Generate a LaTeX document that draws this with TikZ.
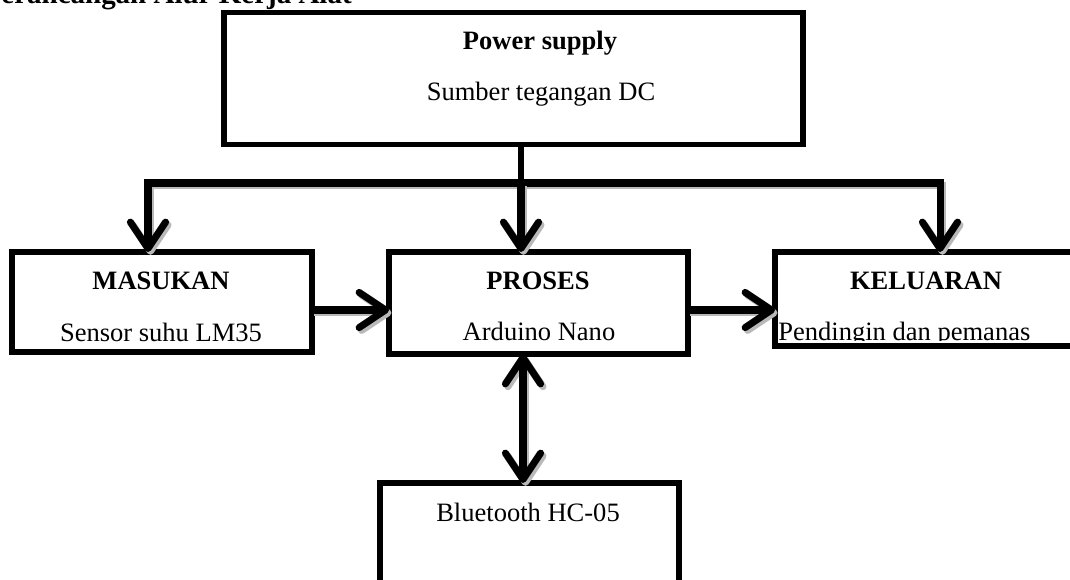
\documentclass[tikz,border=0pt]{standalone}
\usepackage{fontspec}
\setmainfont{Liberation Serif}
\usetikzlibrary{arrows.meta}

\tikzset{
  blok/.style={draw, line width=3pt, inner sep=0pt, outer sep=0pt},
  teks/.style={inner sep=0pt, anchor=base, font=\fontsize{15.1}{18}\selectfont},
  judul/.style={teks, font=\fontsize{15.1}{18}\selectfont\bfseries},
  jalur/.style={line width=4pt},
  panah/.style={jalur, -{Straight Barb[length=15pt, width=20pt, line width=4pt, round]}},
  panahdua/.style={jalur, {Straight Barb[length=15pt, width=20pt, line width=4pt, round]}-{Straight Barb[length=15pt, width=20pt, line width=4pt, round]}}
}
% penghubung dengan bayangan abu-abu
\newcommand{\sambung}[2]{%
  \begin{scope}[transform canvas={shift={(1.4pt,-1.6pt)}}]
    \draw[#1, draw=gray!55] #2;
  \end{scope}
  \draw[#1] #2;}

\begin{document}
\begin{tikzpicture}[x=0.02cm, y=-0.02cm]
  \useasboundingbox (0,0) rectangle (1070,580);
  \clip (0,0) rectangle (1070,580);

  % judul (terpotong di atas)
  \node[teks, anchor=base east, font=\fontsize{16.5}{19}\selectfont\bfseries] (judulbab) at (352,4) {Perancangan Alur Kerja Alat};

  % blok-blok
  \node[blok, minimum width=11.58cm, minimum height=2.64cm] (power) at (513.5,78.5) {};
  \node[blok, minimum width=6cm, minimum height=2cm] (masukan) at (162,302) {};
  \node[blok, minimum width=5.98cm, minimum height=2.04cm] (proses) at (538.5,303) {};
  \node[blok, minimum width=6.4cm, minimum height=1.88cm] (keluaran) at (935,299) {};
  \node[blok, minimum width=5.98cm, minimum height=2.74cm] (bluetooth) at (529.5,551.5) {};

  % isi blok
  \node[judul] (pwrjudul) at (540,50) {Power supply};
  \node[teks] (pwrisi) at (541,101) {Sumber tegangan DC};
  \node[judul] (masjudul) at (161,290) {MASUKAN};
  \node[teks] (masisi) at (161,341) {Sensor suhu LM35};
  \node[judul] (projudul) at (538,290) {PROSES};
  \node[teks] (proisi) at (539,340) {Arduino Nano};
  \node[judul] (keljudul) at (926,290) {KELUARAN};
  \begin{scope}
    \clip (770,250) rectangle (1070,341);
    \node[teks, anchor=base west] (kelisi) at (778,340) {Pendingin dan pemanas};
  \end{scope}
  \node[teks] (btisi) at (528,521) {Bluetooth HC-05};

  % jalur daya
  \coordinate (tengah) at (521,183);
  \coordinate (kiri) at (148,183);
  \coordinate (kanan) at (940,183);
  \draw[line width=3.6pt] (power.south -| tengah) -- (tengah);
  \sambung{panah}{(tengah) -| (kiri |- masukan.north)}
  \sambung{panah}{(tengah) -| (kanan |- keluaran.north)}
  \sambung{panah}{(tengah) -- (tengah |- proses.north)}

  % aliran data
  \coordinate (aliran) at (0,310);
  \coordinate (bt) at (523,420);
  \sambung{panah}{(masukan.east |- aliran) -- (proses.west |- aliran)}
  \sambung{panah}{(proses.east |- aliran) -- (keluaran.west |- aliran)}
  \sambung{panahdua}{(bt |- proses.south) -- (bt |- bluetooth.north)}
\end{tikzpicture}
\end{document}
